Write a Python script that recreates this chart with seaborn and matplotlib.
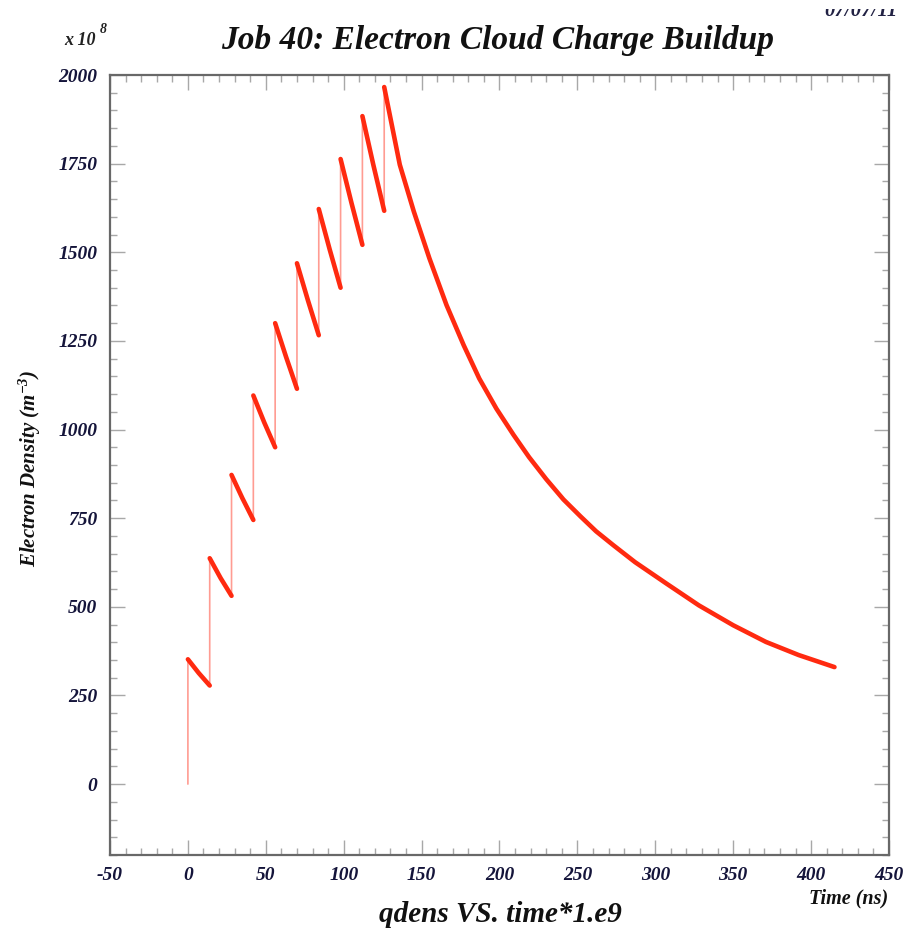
import numpy as np
import pandas as pd
import matplotlib
matplotlib.use("Agg")
import matplotlib.pyplot as plt
from matplotlib.ticker import MultipleLocator
from matplotlib.transforms import Bbox, TransformedBbox
import seaborn as sns

# ---- data ----
bunch_times = [0, 14, 28, 42, 56, 70, 84, 98, 112, 126]          # ns
peak_density = [352, 637, 872, 1096, 1300, 1469, 1622, 1763, 1884, 1966]  # x1e8 m^-3
mid_times = [7, 21, 35, 49, 63, 77, 91, 105, 119]
mid_density = [313, 581, 806, 1020, 1205, 1365, 1508, 1639, 1747]
trough_times = [14, 28, 42, 56, 70, 84, 98, 112, 126]
trough_density = [278, 531, 745, 950, 1115, 1266, 1400, 1521, 1617]
tail_time = [136, 145, 155, 166, 177, 187, 198, 209, 219, 230, 241, 252,
             262, 273, 287, 307, 328, 350, 371, 392, 415]
tail_density = [1747, 1615, 1483, 1351, 1238, 1144, 1059, 985, 922, 860, 803, 755,
                713, 674, 626, 566, 504, 448, 401, 364, 330]

# ---- build tables ----
rows_full = [(0, 0.0, 0)]
rows_decay = []
for i, t in enumerate(bunch_times):
    rows_full.append((0, t, peak_density[i]))
    rows_decay.append((i, t, peak_density[i]))
    if i < len(mid_times):
        for tt, dd in ((mid_times[i], mid_density[i]), (trough_times[i], trough_density[i])):
            rows_full.append((0, tt, dd))
            rows_decay.append((i, tt, dd))
    else:
        for tt, dd in zip(tail_time, tail_density):
            rows_full.append((0, tt, dd))
            rows_decay.append((i, tt, dd))
full = pd.DataFrame(rows_full, columns=["seg", "time", "qdens"])
decay = pd.DataFrame(rows_decay, columns=["seg", "time", "qdens"])

# ---- style ----
sns.set_theme(style="ticks")
plt.rcParams["font.family"] = ["Liberation Serif", "DejaVu Serif"]
plt.rcParams["axes.unicode_minus"] = False
plt.rcParams["mathtext.fontset"] = "custom"
plt.rcParams["mathtext.rm"] = "Liberation Serif:bold:italic"
plt.rcParams["mathtext.it"] = "Liberation Serif:bold:italic"
plt.rcParams["mathtext.bf"] = "Liberation Serif:bold:italic"

fig = plt.figure(figsize=(9.06, 9.40), dpi=100)
ax = fig.add_axes([110 / 906, 85 / 940, 779 / 906, 780 / 940])

red = "#ff2a10"
sns.lineplot(data=full, x="time", y="qdens", units="seg", estimator=None, sort=False,
             color="#ff5a4a", lw=1.2, alpha=0.6, ax=ax, legend=False)
sns.lineplot(data=decay, x="time", y="qdens", units="seg", estimator=None, sort=False,
             color=red, lw=3.3, ax=ax, legend=False)

ax.set_xlim(-50, 450)
ax.set_ylim(-200, 2000)
ax.xaxis.set_major_locator(MultipleLocator(50))
ax.xaxis.set_minor_locator(MultipleLocator(10))
ax.yaxis.set_minor_locator(MultipleLocator(50))
ax.set_yticks(np.arange(0, 2001, 250))

ax.tick_params(which="both", direction="in", top=True, right=True, color="#a8a8a8", width=1.0)
ax.tick_params(which="major", length=11, pad=9, labelsize=14, labelcolor="#14143a")
ax.tick_params(which="minor", length=5)
for lab in ax.get_xticklabels() + ax.get_yticklabels():
    lab.set_fontweight("bold")
    lab.set_fontstyle("italic")
for s in ax.spines.values():
    s.set_color("#686868")
    s.set_linewidth(1.6)

ax.set_xlabel("")
ax.set_ylabel("")

# texts
fig.text(498 / 906, 1 - 40 / 940, "Job 40: Electron Cloud Charge Buildup", ha="center", va="center",
         fontsize=24, fontweight="bold", fontstyle="italic", color="#111111")
fig.text(64 / 906, 1 - 45 / 940, "x 10", ha="left", va="baseline", fontsize=13,
         fontweight="bold", fontstyle="italic", color="#222222")
fig.text(100 / 906, 1 - 33 / 940, "8", ha="left", va="baseline", fontsize=10,
         fontweight="bold", fontstyle="italic", color="#222222")
date = fig.text(898 / 906, 1 - 16 / 940, "07/07/11", ha="right", va="baseline", fontsize=15,
                fontweight="bold", fontstyle="italic", color="#222244")
date.set_clip_box(TransformedBbox(Bbox([[0, 0], [1, 1 - 9 / 940]]), fig.transFigure))
date.set_clip_on(True)
fig.text(30 / 906, 1 - 468 / 940, r"Electron Density (m$^{-3}$)", ha="center", va="center",
         rotation=90, fontsize=15, fontweight="bold", fontstyle="italic", color="#111111")
fig.text(888 / 906, 1 - 898 / 940, "Time (ns)", ha="right", va="center", fontsize=14.5,
         fontweight="bold", fontstyle="italic", color="#111111")
fig.text(500 / 906, 1 - 915 / 940, "qdens VS. time*1.e9", ha="center", va="center", fontsize=21,
         fontweight="bold", fontstyle="italic", color="#111111")

fig.savefig("out.png", dpi=100, facecolor="white")
